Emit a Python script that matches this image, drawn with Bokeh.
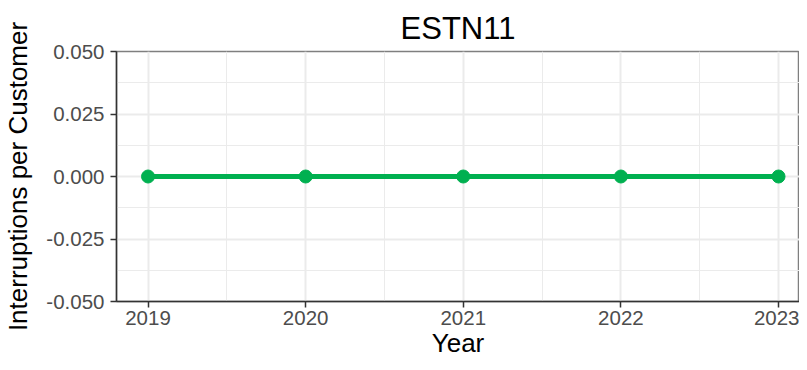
from bokeh.plotting import figure
from bokeh.models import FixedTicker, Range1d
from bokeh.embed import file_html
from bokeh.resources import INLINE

years = [2019, 2020, 2021, 2022, 2023]
values = [0.0, 0.0, 0.0, 0.0, 0.0]
y_ticks = [-0.05, -0.025, 0.0, 0.025, 0.05]
y_labels = {-0.05: "-0.050", -0.025: "-0.025", 0.0: "0.000", 0.025: "0.025", 0.05: "0.050"}

FONT = "Liberation Sans"
GREEN = "#00B050"

p = figure(width=799, height=362, output_backend="svg", toolbar_location=None,
           x_range=Range1d(2018.8, 2023.133), y_range=Range1d(-0.05, 0.05),
           min_border_left=113, min_border_right=0, min_border_top=51, min_border_bottom=61)
p.title.text = "ESTN11"
p.title.align = "center"
p.title.text_font = FONT
p.title.text_font_size = "31px"
p.title.text_font_style = "normal"
p.title.text_color = "black"
p.title.standoff = 12

p.line(years, values, line_color=GREEN, line_width=5)
p.scatter(years, values, size=13, fill_color=GREEN, line_color=GREEN)

p.xaxis.ticker = FixedTicker(ticks=years, minor_ticks=[2019.5, 2020.5, 2021.5, 2022.5])
p.yaxis.ticker = FixedTicker(ticks=y_ticks, minor_ticks=[-0.0375, -0.0125, 0.0125, 0.0375])
p.yaxis.major_label_overrides = y_labels

for ax in (p.xaxis[0], p.yaxis[0]):
    ax.axis_line_color = "#333333"
    ax.axis_line_width = 1.5
    ax.major_tick_line_color = "#333333"
    ax.major_tick_line_width = 1.5
    ax.major_tick_out = 6
    ax.major_tick_in = 0
    ax.minor_tick_line_color = None
    ax.major_label_text_font = FONT
    ax.major_label_text_font_size = "20.5px"
    ax.major_label_text_color = "#4D4D4D"
    ax.axis_label_text_font = FONT
    ax.axis_label_text_font_size = "26px"
    ax.axis_label_text_font_style = "normal"
    ax.axis_label_text_color = "black"

p.xaxis.major_label_standoff = 3
p.yaxis.major_label_standoff = 6
p.xaxis.axis_label = "Year"
p.yaxis.axis_label = "Interruptions per Customer"
p.xaxis.axis_label_standoff = 0
p.yaxis.axis_label_standoff = 10

for g in (p.xgrid[0], p.ygrid[0]):
    g.grid_line_color = "#EBEBEB"
    g.grid_line_width = 2
    g.minor_grid_line_color = "#EBEBEB"
    g.minor_grid_line_width = 1

p.outline_line_color = "#7F7F7F"
p.outline_line_width = 1.5
p.background_fill_color = "white"
p.border_fill_color = "white"

open("out.html", "w").write(file_html(p, INLINE))
